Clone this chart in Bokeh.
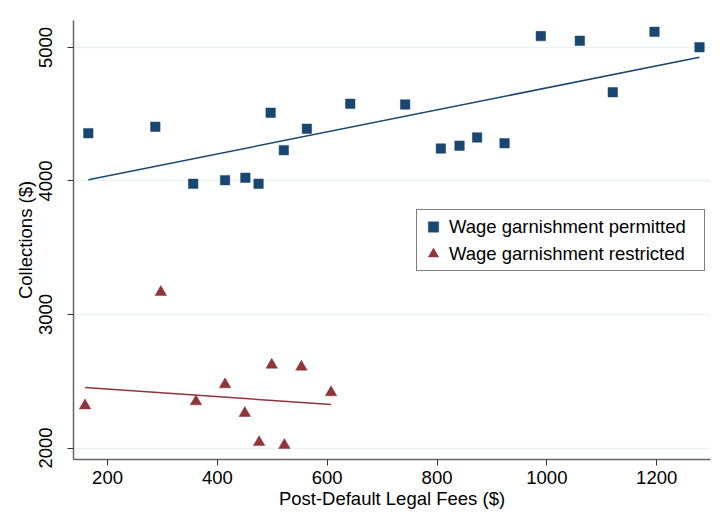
from bokeh.plotting import figure
from bokeh.models import FixedTicker, Legend, LegendItem, Range1d
from bokeh.embed import file_html
from bokeh.resources import INLINE

# Wage garnishment permitted (binned means)
perm_fees = [165, 287, 356, 414, 451, 475, 497, 521, 563, 642,
             742, 807, 841, 873, 923, 989, 1060, 1120, 1196, 1278]
perm_coll = [4358, 4406, 3979, 4006, 4024, 3979, 4511, 4231, 4391, 4578,
             4573, 4243, 4264, 4326, 4283, 5085, 5050, 4665, 5117, 5002]
# fitted line end points
perm_fit_x = [165, 1278]
perm_fit_y = [4009, 4927]

# Wage garnishment restricted (binned means)
rest_fees = [159, 297, 361, 414, 450, 476, 499, 522, 553, 607]
rest_coll = [2318, 3167, 2348, 2476, 2261, 2043, 2623, 2021, 2608, 2416]
rest_fit_x = [159, 607]
rest_fit_y = [2453, 2326]

x_ticks = [200, 400, 600, 800, 1000, 1200]
y_ticks = [2000, 3000, 4000, 5000]

BLUE = "#1a476f"
RED = "#90353b"
FONT = "Liberation Sans"
FS = "18.5px"

p = figure(width=727, height=523, output_backend="svg", toolbar_location=None,
           x_range=Range1d(138, 1298), y_range=Range1d(1914, 5202),
           min_border_left=73, min_border_right=17, min_border_top=20,
           min_border_bottom=64)
p.outline_line_color = None
p.background_fill_color = "white"
p.border_fill_color = "white"

p.xgrid.grid_line_color = None
p.ygrid.grid_line_color = "#eaf2f3"
p.ygrid.grid_line_width = 1.5

for ax in (p.xaxis[0], p.yaxis[0]):
    ax.axis_line_color = "#666666"
    ax.axis_line_width = 1.5
    ax.major_tick_line_color = "#333333"
    ax.major_tick_out = 6
    ax.major_tick_in = 0
    ax.minor_tick_line_color = None
    ax.major_label_text_font = FONT
    ax.major_label_text_font_size = FS
    ax.major_label_text_color = "black"
    ax.axis_label_text_font = FONT
    ax.axis_label_text_font_size = FS
    ax.axis_label_text_font_style = "normal"
    ax.axis_label_text_color = "black"

p.xaxis.ticker = FixedTicker(ticks=x_ticks)
p.yaxis.ticker = FixedTicker(ticks=y_ticks)
p.xaxis.axis_label = "Post-Default Legal Fees ($)"
p.yaxis.axis_label = "Collections ($)"
p.yaxis.major_label_orientation = "vertical"
p.xaxis.major_label_standoff = 5
p.yaxis.major_label_standoff = 15
p.xaxis.axis_label_standoff = 1
p.yaxis.axis_label_standoff = 1

r_perm = p.scatter(perm_fees, perm_coll, marker="square", size=9.5,
                   fill_color=BLUE, line_color=BLUE, line_width=0.5)
r_rest = p.scatter(rest_fees, rest_coll, marker="triangle", size=11.5,
                   fill_color=RED, line_color=RED, line_width=0.5)

p.line(perm_fit_x, perm_fit_y, line_color=BLUE, line_width=1.5)
p.line(rest_fit_x, rest_fit_y, line_color=RED, line_width=1.5)

legend = Legend(items=[LegendItem(label="Wage garnishment permitted", renderers=[r_perm]),
                       LegendItem(label="Wage garnishment restricted", renderers=[r_rest])],
                location=(343, 188), orientation="vertical")
legend.label_text_font = FONT
legend.label_text_font_size = FS
legend.label_text_color = "black"
legend.glyph_width = 26
legend.glyph_height = 27
legend.label_height = 27
legend.label_width = 252
legend.label_standoff = 3
legend.spacing = 0
legend.padding = 3
legend.margin = 0
legend.border_line_color = "black"
legend.border_line_width = 1
legend.background_fill_color = "white"
legend.background_fill_alpha = 1
p.add_layout(legend, "center")

open("out.html", "w").write(file_html(p, INLINE))
